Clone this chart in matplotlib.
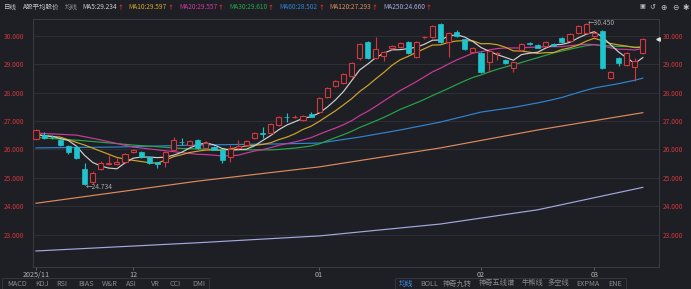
import matplotlib
matplotlib.use('Agg')
import matplotlib.pyplot as plt
import numpy as np
import pandas as pd
from matplotlib.patches import Rectangle

plt.rcParams['font.family'] = ['Noto Sans CJK SC', 'DejaVu Sans']

# ---------------- data ----------------
opens = [26.36, 26.50, 26.45, 26.33, 26.12, 26.08, 25.31, 24.85, 25.31, 25.48,
         25.50, 25.55, 25.90, 25.90, 25.73, 25.55, 25.55, 25.98, 26.27, 26.15,
         26.33, 26.05, 26.08, 25.98, 25.73, 26.05, 26.15, 26.40, 26.58, 26.57,
         26.86, 27.15, 27.12, 27.03, 27.26, 27.31, 27.84, 28.23, 28.33, 28.58,
         29.20, 29.78, 29.21, 29.29, 29.55, 29.60, 29.78, 29.25, 29.93, 29.95,
         30.41, 29.78, 30.14, 29.88, 29.43, 29.39, 29.06, 29.38, 29.16, 28.85,
         29.50, 29.74, 29.67, 29.64, 29.71, 29.92, 29.81, 30.10, 30.10, 29.99,
         30.17, 28.51, 29.21, 28.97, 28.90, 29.39]
closes = [26.68, 26.40, 26.42, 26.15, 25.90, 25.69, 24.78, 25.17, 25.52, 25.53,
          25.57, 25.83, 25.98, 25.73, 25.52, 25.48, 25.90, 26.33, 26.24, 26.29,
          26.05, 26.22, 25.98, 25.62, 26.01, 26.12, 26.29, 26.57, 26.55, 26.89,
          27.14, 27.12, 27.15, 27.17, 27.14, 27.81, 28.16, 28.40, 28.65, 29.04,
          29.71, 29.21, 29.53, 29.43, 29.63, 29.74, 29.39, 29.78, 29.95, 30.34,
          29.78, 30.10, 30.00, 29.53, 29.57, 28.72, 29.45, 29.40, 29.05, 29.06,
          29.71, 29.70, 29.57, 29.78, 29.64, 29.78, 30.06, 30.34, 30.42, 30.10,
          28.86, 28.72, 29.04, 29.39, 29.11, 29.88]
highs = [26.72, 26.62, 26.50, 26.36, 26.14, 26.10, 25.52, 25.24, 25.60, 25.80,
         25.69, 25.86, 26.02, 25.93, 25.76, 25.57, 25.93, 26.43, 26.40, 26.32,
         26.36, 26.29, 26.10, 26.00, 26.15, 26.33, 26.32, 26.60, 26.78, 26.92,
         27.17, 27.28, 27.20, 27.20, 27.30, 27.85, 28.20, 28.44, 28.68, 29.08,
         29.74, 29.81, 29.95, 29.46, 29.66, 29.77, 29.80, 29.80, 29.99, 30.37,
         30.43, 30.13, 30.20, 29.90, 29.60, 29.42, 29.48, 29.43, 29.18, 29.09,
         29.74, 29.77, 29.70, 29.81, 29.74, 29.95, 30.09, 30.37, 30.45, 30.13,
         30.20, 28.75, 29.24, 29.42, 29.21, 29.91]
lows = [26.33, 26.36, 26.38, 26.12, 25.85, 25.66, 24.734, 24.78, 25.28, 25.45,
        25.46, 25.52, 25.86, 25.70, 25.50, 25.34, 25.38, 25.96, 26.15, 26.12,
        26.01, 26.02, 25.96, 25.52, 25.55, 26.02, 26.12, 26.37, 26.40, 26.54,
        26.83, 26.96, 27.10, 27.00, 27.12, 27.28, 27.80, 28.20, 28.30, 28.55,
        29.16, 29.18, 29.18, 29.11, 29.52, 29.57, 29.36, 29.22, 29.90, 29.92,
        29.75, 29.25, 29.97, 29.50, 29.40, 28.70, 28.72, 29.14, 29.02, 28.72,
        29.47, 29.67, 29.55, 29.61, 29.62, 29.75, 29.78, 30.07, 30.07, 29.96,
        28.84, 28.48, 28.93, 28.94, 28.40, 29.36]

month_idx = [0, 12, 35, 55, 69]
month_labels = ['2025/11', '12', '01', '02', '03']
y_ticks = [23, 24, 25, 26, 27, 28, 29, 30]

# moving-average lines: values read at the start of the window (before enough
# closes are visible), then rolling means of the closes
ma5_head_idx, ma5_head_val = [0, 2], [26.52, 26.45]
ma10_head_idx, ma10_head_val = [0, 3, 6], [26.50, 26.43, 26.15]
ma20_head_idx, ma20_head_val = [0, 5, 8, 12, 15], [26.57, 26.50, 26.33, 26.08, 25.98]
ma30_head_idx, ma30_head_val = [0, 6, 12, 18, 24], [26.42, 26.30, 26.15, 26.03, 25.98]
ma60_head_idx = [0, 10, 20, 30, 35, 40, 45, 50, 55]
ma60_head_val = [26.05, 26.08, 26.15, 26.19, 26.22, 26.43, 26.68, 26.96, 27.31]
ma120_idx = [0, 20, 35, 50, 62, 75]
ma120_val = [24.10, 24.88, 25.38, 26.05, 26.68, 27.29]
ma250_idx = [0, 20, 35, 50, 62, 75]
ma250_val = [22.42, 22.71, 22.95, 23.37, 23.87, 24.66]

legend_names = ['MA5:29.234', 'MA10:29.597', 'MA20:29.557', 'MA30:29.610',
                'MA60:28.502', 'MA120:27.293', 'MA250:24.660']

# ---------------- style ----------------
BG = '#1e1f24'
RED = '#d2383d'
CYAN = '#20c4cd'
GRID = '#2e3036'
FRAME = '#3a3c42'
AXLAB = '#d0363c'
C_MA5 = '#d0d0d0'
C_MA10 = '#d2a52a'
C_MA20 = '#cc3b9c'
C_MA30 = '#27a64b'
C_MA60 = '#2f84d3'
C_MA120 = '#de8a5e'
C_MA250 = '#a3a9df'

W, H = 691, 289
fig = plt.figure(figsize=(W / 100, H / 100), dpi=100)
fig.patch.set_facecolor(BG)

L, R, T, B = 33, 659, 19, 267
ax = fig.add_axes([L / W, 1 - B / H, (R - L) / W, (B - T) / H])
ax.set_facecolor(BG)

n = len(closes)
x0 = -0.37
x1 = 77.0
ax.set_xlim(x0, x1)
ax.set_ylim(21.856, 30.588)

for yv in y_ticks:
    ax.axhline(yv, color=GRID, lw=0.7, zorder=0)

def ma_line(win, hidx, hval):
    roll = pd.Series(closes).rolling(win).mean()
    xs = list(hidx) + list(range(win - 1, n))
    ys = list(hval) + list(roll.iloc[win - 1:])
    return xs, ys

lw = 0.85
ax.plot(ma250_idx, ma250_val, color=C_MA250, lw=lw, zorder=2)
ax.plot(ma120_idx, ma120_val, color=C_MA120, lw=lw, zorder=2)
for win, hi, hv, col in [(60, ma60_head_idx, ma60_head_val, C_MA60),
                         (30, ma30_head_idx, ma30_head_val, C_MA30),
                         (20, ma20_head_idx, ma20_head_val, C_MA20),
                         (10, ma10_head_idx, ma10_head_val, C_MA10),
                         (5, ma5_head_idx, ma5_head_val, C_MA5)]:
    xs, ys = ma_line(win, hi, hv)
    ax.plot(xs, ys, color=col, lw=lw, zorder=3)

# candles
bw = 0.62
for i in range(n):
    o, c, h, l = opens[i], closes[i], highs[i], lows[i]
    top, bot = max(o, c), min(o, c)
    if c >= o:
        ax.vlines(i, top, h, color=RED, lw=0.8, zorder=4)
        ax.vlines(i, l, bot, color=RED, lw=0.8, zorder=4)
        if top - bot < 0.03:
            ax.hlines(c, i - bw / 2, i + bw / 2, color=RED, lw=0.9, zorder=5)
        else:
            ax.add_patch(Rectangle((i - bw / 2, bot), bw, top - bot, facecolor=BG,
                                   edgecolor=RED, lw=0.8, zorder=5))
    else:
        ax.vlines(i, l, h, color=CYAN, lw=0.8, zorder=4)
        ax.add_patch(Rectangle((i - bw / 2, bot), bw, max(top - bot, 0.03),
                               facecolor=CYAN, edgecolor=CYAN, lw=0.5, zorder=5))

imax = int(np.argmax(highs))
imin = int(np.argmin(lows))
ax.text(imax + 0.15, highs[imax], '←%.3f' % highs[imax], color='#a8a8a8', fontsize=4.8,
        va='center', ha='left', zorder=6)
ax.text(imin + 0.15, lows[imin] - 0.05, '←%.3f' % lows[imin], color='#a8a8a8', fontsize=4.8,
        va='center', ha='left', zorder=6)

for s in ['left', 'right', 'bottom', 'top']:
    ax.spines[s].set_color(FRAME)
    ax.spines[s].set_linewidth(0.7)
ax.set_yticks(y_ticks)
ax.set_yticklabels(['%.3f' % v for v in y_ticks])
ax.tick_params(axis='y', which='both', length=0, labelleft=True, labelright=True,
               labelsize=4.8, labelcolor=AXLAB, pad=3)
ax.set_xticks(month_idx)
ax.set_xticklabels(month_labels)
ax.tick_params(axis='x', length=2, width=0.6, color='#6a6c72', labelsize=5.2,
               labelcolor='#b4b4b4', pad=1.2)

for t in ax.yaxis.get_major_ticks():
    t.label1.set_x(-9 / (R - L))
    t.label1.set_transform(ax.get_yaxis_transform())
    t.label1.set_ha('right')

ax.plot([x1 - 0.1], [closes[-1]], marker='<', ms=2.5, color='#e0e0e0', clip_on=False, zorder=7)

# ---------------- header ----------------
hy = 1 - 7 / H
fs = 4.7
fig.text(4 / W, hy, '日线', color='#c8c8c8', fontsize=fs, va='center')
fig.text(23 / W, hy, 'A股平均股价', color='#c8c8c8', fontsize=fs, va='center')
fig.text(65 / W, hy, '均线', color='#909090', fontsize=fs, va='center')
cols = [C_MA5, C_MA10, C_MA20, C_MA30, C_MA60, C_MA120, C_MA250]
fig.canvas.draw()
rend = fig.canvas.get_renderer()
xp = 82.0
for name, col in zip(legend_names, cols):
    t = fig.text(xp / W, hy, name, color=col, fontsize=fs, va='center')
    bb = t.get_window_extent(rend)
    a = fig.text((bb.x1 + 0.6) / W, hy, '↑', color='#e03030', fontsize=fs - 0.4,
                 va='center', fontweight='bold')
    ab = a.get_window_extent(rend)
    xp = ab.x1 + 5.5

icon_col = '#c0c0c0'
fig.text(642 / W, hy, '▣', color=icon_col, fontsize=4.5, va='center', ha='center', family='DejaVu Sans')
fig.text(652 / W, hy, '↺', color=icon_col, fontsize=5, va='center', ha='center', family='DejaVu Sans')
fig.text(663 / W, hy, '⊕', color=icon_col, fontsize=5.5, va='center', ha='center', family='DejaVu Sans')
fig.text(675 / W, hy, '⊖', color=icon_col, fontsize=5.5, va='center', ha='center', family='DejaVu Sans')
fig.text(686 / W, hy, '✱', color=icon_col, fontsize=5.5, va='center', ha='center', family='DejaVu Sans')

# ---------------- bottom tabs ----------------
tab_col = '#8c8c8c'
by = 1 - 283.5 / H
fig.patches.append(Rectangle((2 / W, 0), (209 - 2) / W, 11 / H, transform=fig.transFigure,
                             facecolor='none', edgecolor='#35373c', lw=0.7))
fig.patches.append(Rectangle((395 / W, 0), (626 - 395) / W, 11 / H, transform=fig.transFigure,
                             facecolor='none', edgecolor='#35373c', lw=0.7))
left_tabs = ['MACD', 'KDJ', 'RSI', 'BIAS', 'W&R', 'ASI', 'VR', 'CCI', 'DMI']
left_tab_x = [17, 42, 62, 86, 110, 131, 155, 175, 199]
for t, xq in zip(left_tabs, left_tab_x):
    fig.text(xq / W, by, t, color=tab_col, fontsize=5.2, va='center', ha='center')
right_tabs = ['均线', 'BOLL', '神奇九转', '神奇五线谱', '牛熊线', '多空线', 'EXPMA', 'ENE']
right_tab_x = [406, 429, 457, 497, 532, 558, 588, 615]
for k, (t, xq) in enumerate(zip(right_tabs, right_tab_x)):
    fig.text(xq / W, by, t, color='#3b8fe8' if k == 0 else tab_col, fontsize=5.2,
             va='center', ha='center')

fig.savefig('out.png', dpi=100, facecolor=BG)
